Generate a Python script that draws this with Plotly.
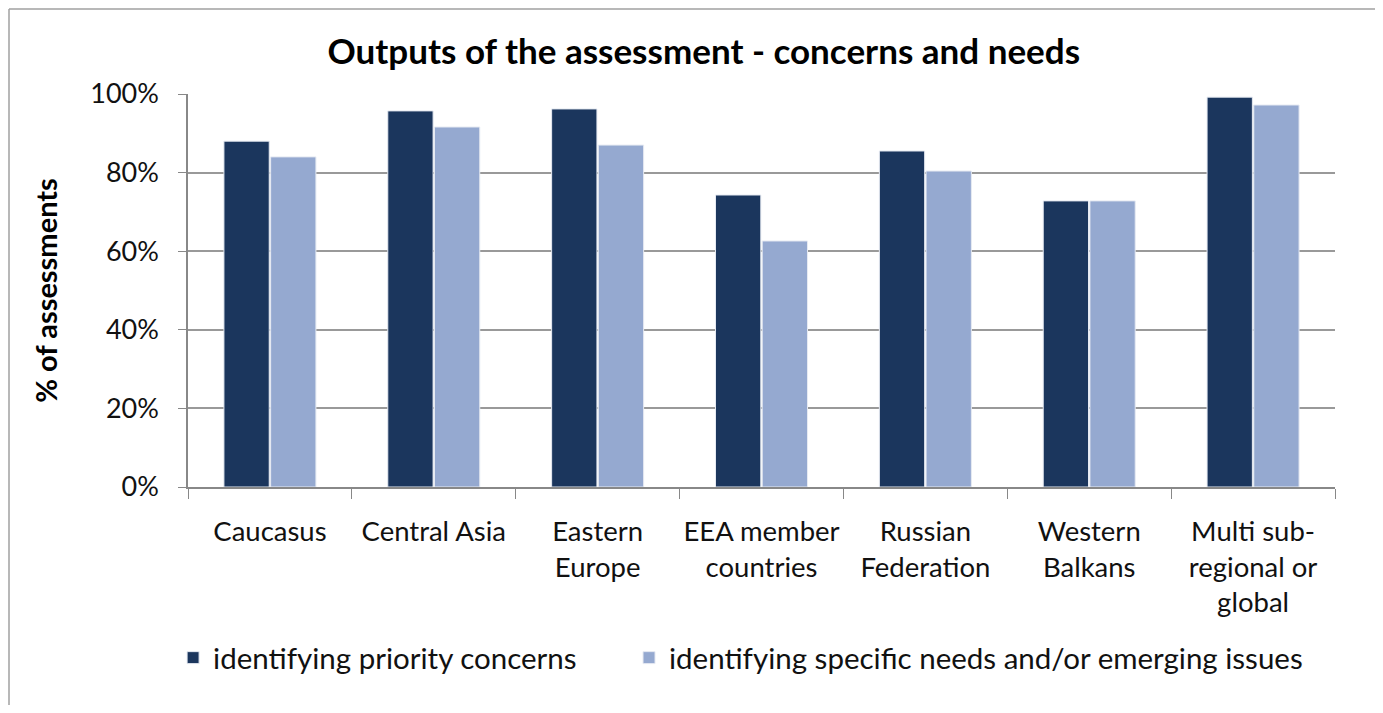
import plotly.graph_objects as go

# data
categories = ["Caucasus", "Central Asia", "Eastern<br>Europe", "EEA member<br>countries",
              "Russian<br>Federation", "Western<br>Balkans", "Multi sub-<br>regional or<br>global"]
priority_concerns = [0.88, 0.957, 0.962, 0.743, 0.855, 0.728, 0.992]
specific_needs = [0.84, 0.916, 0.87, 0.626, 0.804, 0.728, 0.972]
y_ticks = [0, 0.2, 0.4, 0.6, 0.8, 1.0]

FONT = "Lato, 'Open Sans', sans-serif"

# page body adds an 8px margin, so the figure is a bit smaller than the window
W, H = 1367, 697
L, R, T, B = 180, 40, 86, 218
pw, ph = W - L - R, H - T - B

fig = go.Figure()
fig.add_trace(go.Bar(
    x=categories, y=priority_concerns, name="identifying priority concerns",
    marker=dict(color="#1b365d", line=dict(color="#e6eaf2", width=1)),
    legend="legend",
))
fig.add_trace(go.Bar(
    x=categories, y=specific_needs, name="identifying specific needs and/or emerging issues",
    marker=dict(color="#95a9d0", line=dict(color="#e6eaf2", width=1)),
    legend="legend2",
))

# chart frame: only the left and top edges fall inside the picture
x_left = -(L - 1) / pw
y_top = 1 + (T - 1) / ph
frame = [
    dict(type="line", xref="paper", yref="paper", x0=x_left, x1=x_left, y0=-(B + 5) / ph, y1=y_top,
         line=dict(color="#a0a0a0", width=1.5)),
    dict(type="line", xref="paper", yref="paper", x0=x_left, x1=1 + (R + 5) / pw, y0=y_top, y1=y_top,
         line=dict(color="#a0a0a0", width=1.5)),
]

legend_style = dict(orientation="h", yanchor="middle", y=-0.435, xanchor="left",
                    font=dict(size=29.5), bgcolor="rgba(0,0,0,0)")

fig.update_layout(
    width=W, height=H,
    paper_bgcolor="white", plot_bgcolor="white",
    margin=dict(l=L, r=R, t=T, b=B),
    barmode="group", bargap=0.43, bargroupgap=0.03,
    font=dict(family=FONT, size=27, color="#111111"),
    title=dict(text="<b>Outputs of the assessment - concerns and needs</b>",
               x=0.509, xanchor="center", y=1 - 44 / H, yanchor="middle",
               font=dict(size=35, color="black")),
    legend=dict(legend_style, x=-0.013),
    legend2=dict(legend_style, x=0.3845),
    showlegend=True,
    shapes=frame,
)

fig.update_xaxes(
    type="category", showline=True, linecolor="#888888", linewidth=1.5,
    ticks="outside", tickson="boundaries", ticklen=10, tickcolor="#888888",
    tickfont=dict(size=27.5), tickangle=0, showgrid=False, ticklabelstandoff=19,
)
fig.update_yaxes(
    range=[0, 1.0], tickvals=y_ticks, tickformat=".0%",
    showline=True, linecolor="#888888", linewidth=1.5,
    ticks="outside", ticklen=8, tickcolor="#888888",
    showgrid=True, gridcolor="#999999", gridwidth=1.5,
    tickfont=dict(size=27), ticklabelstandoff=14,
    title=dict(text="<b>% of assessments</b>", font=dict(size=29, color="black"), standoff=24),
    zeroline=False,
)

fig.write_html("out.html")
